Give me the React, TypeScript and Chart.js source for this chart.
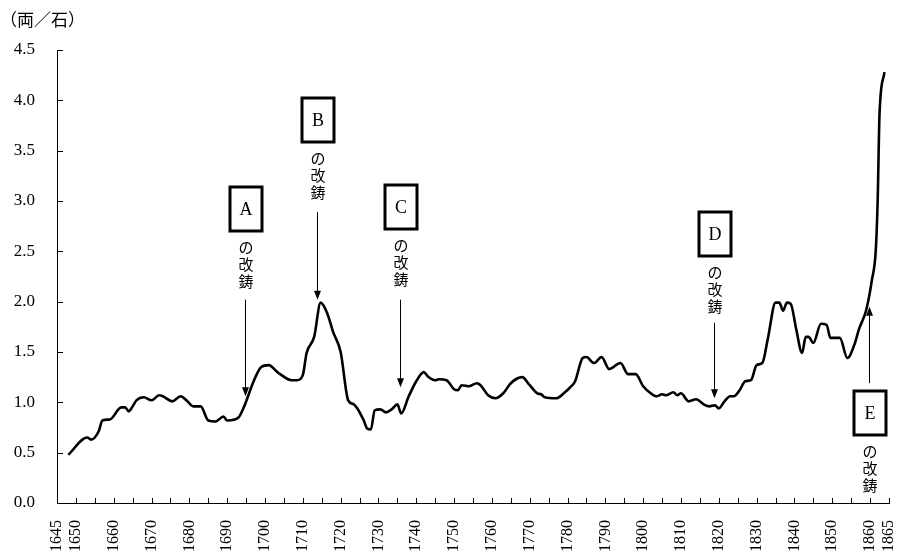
import React, { useEffect, useRef } from "react";
import { Chart, registerables } from "chart.js";

Chart.register(...registerables);

// Rice price (両／石)
const years = [
  1648, 1653, 1654, 1656, 1657, 1659, 1662, 1663, 1664, 1665, 1666, 1668, 1670, 1672, 1673, 1675.5, 1677.7,
  1679.5, 1681, 1683, 1685, 1687, 1689, 1690, 1693, 1694.5, 1697, 1699, 1701, 1703, 1704, 1707, 1708.5, 1710,
  1711, 1713, 1714.7, 1716.4, 1718, 1720, 1722, 1723.5, 1726, 1727, 1728, 1729, 1730.5, 1732, 1733.5, 1735,
  1736, 1738, 1740, 1742, 1743, 1745, 1746, 1748, 1750, 1751, 1752, 1754, 1756, 1757, 1759, 1761, 1763, 1765,
  1768, 1770, 1772, 1773, 1774, 1777, 1779, 1781, 1782, 1784, 1785, 1787, 1789, 1791, 1794, 1796, 1798, 1800,
  1802, 1803.5, 1805, 1806, 1808, 1809, 1810, 1812, 1814, 1816, 1817.5, 1819, 1820, 1821.5, 1823, 1824, 1825.5,
  1827, 1828.5, 1830, 1831.5, 1833, 1835, 1836, 1837, 1838, 1839, 1840.5, 1842, 1843, 1843.7, 1845, 1847,
  1848.5, 1849.5, 1852, 1854, 1856, 1857, 1859, 1860.5, 1861.5, 1862, 1862.5, 1863.8,
];
const prices = [
  0.48, 0.65, 0.63, 0.71, 0.82, 0.83, 0.95, 0.95, 0.91, 0.96, 1.02, 1.05, 1.02, 1.07, 1.06, 1.01, 1.06,
  1.01, 0.96, 0.96, 0.82, 0.81, 0.86, 0.82, 0.85, 0.96, 1.21, 1.35, 1.37, 1.31, 1.28, 1.22, 1.22, 1.27,
  1.49, 1.65, 1.99, 1.89, 1.7, 1.5, 1.02, 0.98, 0.83, 0.74, 0.73, 0.92, 0.93, 0.9, 0.93, 0.98,
  0.89, 1.06, 1.21, 1.3, 1.26, 1.22, 1.23, 1.22, 1.13, 1.12, 1.17, 1.16, 1.19, 1.17, 1.07, 1.04, 1.09, 1.19,
  1.25, 1.17, 1.09, 1.08, 1.05, 1.04, 1.09, 1.16, 1.21, 1.44, 1.45, 1.39, 1.45, 1.33, 1.39, 1.28, 1.28, 1.16,
  1.09, 1.06, 1.08, 1.07, 1.1, 1.07, 1.09, 1.01, 1.03, 0.98, 0.96, 0.97, 0.94, 1.01, 1.06, 1.06, 1.12,
  1.21, 1.22, 1.37, 1.39, 1.64, 1.99, 1.99, 1.91, 1.99, 1.98, 1.72, 1.49, 1.65, 1.65, 1.59, 1.78,
  1.77, 1.64, 1.64, 1.44, 1.59, 1.72, 1.92, 2.22, 2.51, 3.0, 3.87, 4.28,
];

const xMin = 1645;
const xMax = 1865;
const yMin = 0;
const yMax = 4.5;
const xLabelYears = [1645, 1650, 1660, 1670, 1680, 1690, 1700, 1710, 1720, 1730, 1740, 1750, 1760, 1770, 1780, 1790, 1800, 1810, 1820, 1830, 1840, 1850, 1860, 1865];

const unitLabel = "（両／石）";
const markLabels = ["A", "B", "C", "D", "E"];
const markYears = [1695, 1714, 1736, 1819, 1860];
const markCaption = ["の", "改", "鋳"];
// vertical placement (value units)
const markBoxTop = [3.14, 4.02, 3.16, 2.89, 1.11];
const markArrowFrom = [2.02, 2.89, 2.02, 1.79, 1.19];
const markArrowTo = [1.06, 2.02, 1.15, 1.04, 1.95];

const SERIF = "'Liberation Serif', 'DejaVu Serif', serif";
const JP = "'Noto Sans CJK JP', sans-serif";

const decorPlugin = {
  id: "decor",
  afterDraw(chart: any) {
    const ctx = chart.ctx;
    const xs = chart.scales.x;
    const ys = chart.scales.y;
    const area = chart.chartArea;
    ctx.save();
    // inward ticks
    ctx.strokeStyle = "#000";
    ctx.lineWidth = 1;
    ctx.beginPath();
    for (let yr = xMin; yr <= xMax; yr += 5) {
      const px = Math.round(xs.getPixelForValue(yr)) + 0.5;
      ctx.moveTo(px, area.bottom);
      ctx.lineTo(px, area.bottom - 5);
    }
    for (let v = yMin; v <= yMax + 1e-9; v += 0.5) {
      const py = Math.round(ys.getPixelForValue(v)) + 0.5;
      ctx.moveTo(area.left, py);
      ctx.lineTo(area.left + 6, py);
    }
    ctx.stroke();

    // unit label
    ctx.fillStyle = "#000";
    ctx.font = `17px ${JP}`;
    ctx.textAlign = "left";
    ctx.textBaseline = "middle";
    ctx.fillText(unitLabel, 0, 20);

    // annotations
    markLabels.forEach((lab, i) => {
      const cx = Math.round(xs.getPixelForValue(markYears[i]));
      const top = Math.round(ys.getPixelForValue(markBoxTop[i]));
      const bw = 32;
      const bh = 44;
      ctx.lineWidth = 3;
      ctx.strokeStyle = "#000";
      ctx.strokeRect(cx - bw / 2, top, bw, bh);
      ctx.font = `18px ${SERIF}`;
      ctx.textAlign = "center";
      ctx.textBaseline = "middle";
      ctx.fillText(lab, cx, top + bh / 2 + 1);
      ctx.font = `15px ${JP}`;
      markCaption.forEach((ch, k) => {
        ctx.fillText(ch, cx, top + bh + 16 + k * 17);
      });
      // arrow
      const y1 = ys.getPixelForValue(markArrowFrom[i]);
      const y2 = ys.getPixelForValue(markArrowTo[i]);
      const dir = y2 > y1 ? 1 : -1;
      ctx.lineWidth = 1;
      ctx.beginPath();
      ctx.moveTo(cx - 0.5, y1);
      ctx.lineTo(cx - 0.5, y2 - dir * 6);
      ctx.stroke();
      ctx.beginPath();
      ctx.moveTo(cx - 0.5, y2);
      ctx.lineTo(cx - 4, y2 - dir * 9);
      ctx.lineTo(cx + 3, y2 - dir * 9);
      ctx.closePath();
      ctx.fill();
    });
    ctx.restore();
  },
};

export default function App() {
  const ref = useRef<HTMLCanvasElement | null>(null);
  useEffect(() => {
    if (!ref.current) return;
    const chart = new Chart(ref.current, {
      type: "line",
      data: {
        datasets: [
          {
            data: years.map((yr, i) => ({ x: yr, y: prices[i] })),
            borderColor: "#000",
            borderWidth: 2.6,
            pointRadius: 0,
            cubicInterpolationMode: "monotone",
            fill: false,
          },
        ],
      },
      options: {
        animation: false,
        responsive: true,
        maintainAspectRatio: false,
        layout: { padding: { top: 50, right: 12, left: 0, bottom: 0 } },
        plugins: { legend: { display: false }, tooltip: { enabled: false } },
        scales: {
          x: {
            type: "linear",
            min: xMin,
            max: xMax,
            afterFit: (s: any) => {
              s.height = 55;
              s.paddingLeft = 0;
              s.paddingRight = 0;
            },
            grid: { display: true, drawOnChartArea: false, drawTicks: false },
            border: { display: true, color: "#000", width: 1 },
            ticks: {
              stepSize: 5,
              autoSkip: false,
              minRotation: 90,
              maxRotation: 90,
              padding: 17,
              color: "#000",
              font: { family: SERIF, size: 16 },
              callback: (v: any) => (xLabelYears.includes(Number(v)) ? String(v) : ""),
            },
          },
          y: {
            min: yMin,
            max: yMax,
            afterFit: (s: any) => {
              s.width = 57;
              s.paddingTop = 0;
              s.paddingBottom = 0;
            },
            grid: { display: true, drawOnChartArea: false, drawTicks: false },
            border: { display: true, color: "#000", width: 1 },
            ticks: {
              stepSize: 0.5,
              padding: 22,
              color: "#000",
              font: { family: SERIF, size: 17 },
              callback: (v: any) => Number(v).toFixed(1),
            },
          },
        },
      },
      plugins: [decorPlugin],
    });
    return () => chart.destroy();
  }, []);
  return (
    <div style={{ position: "fixed", left: 0, top: 0, width: 901, height: 558, background: "#fff" }}>
      <canvas ref={ref} />
    </div>
  );
}
